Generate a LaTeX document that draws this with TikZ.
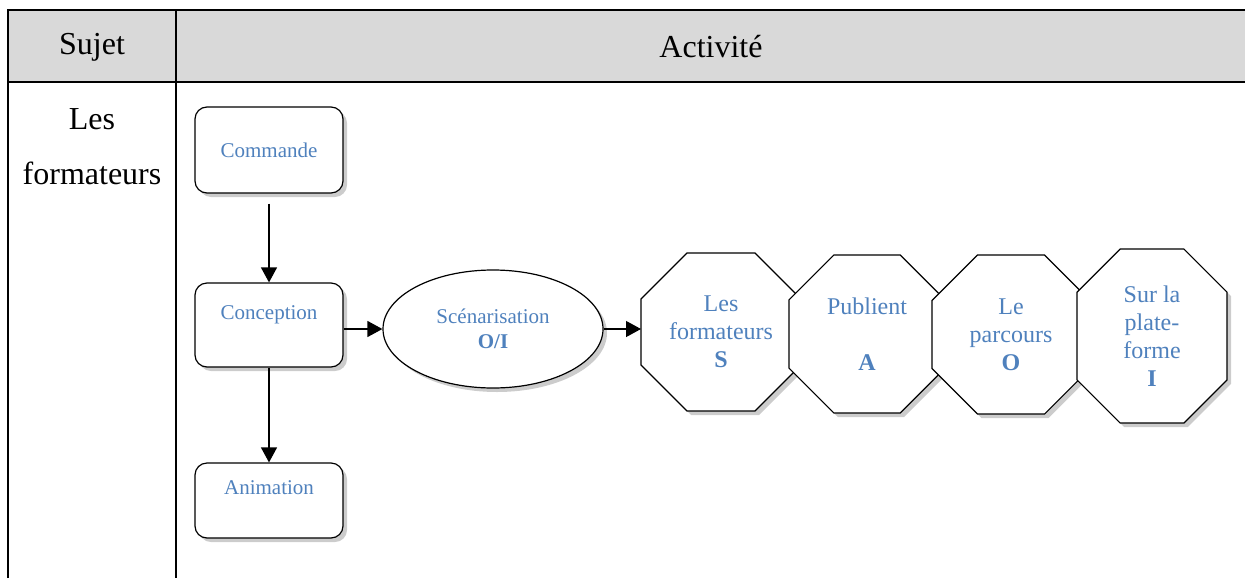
\documentclass[tikz,border=0pt]{standalone}
\usepackage{fontspec}
\setmainfont{Liberation Serif}
\usetikzlibrary{shapes.geometric,arrows.meta,shadows}
\definecolor{bleutexte}{HTML}{4F81BD}
\definecolor{gristable}{HTML}{D9D9D9}
\tikzset{
  ombre/.style={drop shadow={shadow xshift=2pt,shadow yshift=-2pt,opacity=0.4}},
  boite/.style={draw,fill=white,rounded corners=6pt,line width=0.6pt,ombre,minimum width=74pt,
    align=center,text=bleutexte,font=\fontsize{10.5}{12.5}\selectfont},
  bulle/.style={ellipse,draw,fill=white,line width=0.6pt,ombre,minimum width=110pt,minimum height=59pt,
    inner sep=0pt,align=center,text=bleutexte,font=\fontsize{10.5}{12.5}\selectfont},
  octo/.style={draw,fill=white,line width=0.6pt,ombre},
  textocto/.style={align=center,text=bleutexte,font=\fontsize{12}{14}\selectfont},
  entete/.style={font=\fontsize{16}{19}\selectfont},
  fleche/.style={-{Triangle[length=7.5pt,width=8pt]},line width=0.6pt}
}
% octogone : nom, centre, demi-largeur, demi-hauteur, texte
\newcommand{\octogone}[5]{%
  \begin{scope}[shift={#2}]
    \pgfmathsetmacro{\coin}{0.575*#3}
    \draw[octo] (-#3,{#4-\coin}) -- ({-#3+\coin},#4) -- ({#3-\coin},#4) -- (#3,{#4-\coin})
      -- (#3,{-#4+\coin}) -- ({#3-\coin},-#4) -- ({-#3+\coin},-#4) -- (-#3,{-#4+\coin}) -- cycle;
    \node[textocto] (#1) at (0,0) {#5};
    \coordinate (#1-o) at (-#3,0);
  \end{scope}}
\begin{document}
\begin{tikzpicture}[x=0.5pt,y=-0.5pt]
  \useasboundingbox (0,0) rectangle (1245,578);
  %% Tableau
  \fill[gristable] (8,10) rectangle (1245,82);
  \draw[line width=1pt] (8,578) -- (8,10) -- (1245,10);
  \draw[line width=1pt] (8,82) -- (1245,82);
  \draw[line width=1pt] (176,10) -- (176,578);
  \node[entete] (sujet) at (92,47) {Sujet};
  \node[entete] (activite) at (711,47) {Activité};
  \node[entete,align=center,font=\fontsize{16}{27.5}\selectfont] (formateurs) at (92,147) {Les\\formateurs};
  %% Boites
  \node[boite,minimum height=43pt] (cmd) at (269,150) {Commande};
  \node[boite,minimum height=42pt] (conc) at (269,325) {Conception\\\mbox{}};
  \node[boite,minimum height=37.5pt] (anim) at (269,500.5) {Animation\\\mbox{}};
  \node[bulle] (scen) at (493,329) {Scénarisation\\\textbf{O/I}};
  %% Octogones
  \octogone{o1}{(721,332)}{80}{79}{Les\\formateurs\\\textbf{S}}
  \octogone{o2}{(867,334)}{78}{79}{Publient\\\mbox{}\\\textbf{A}}
  \octogone{o3}{(1011,334.5)}{79}{79.5}{Le\\parcours\\\textbf{O}}
  \octogone{o4}{(1152,336)}{75}{87}{Sur la\\plate-\\forme\\\textbf{I}}
  %% Fleches
  \draw[fleche,shorten <=5pt] (cmd.south) -- (conc.north);
  \draw[fleche] (conc.south) -- (anim.north);
  \draw[fleche] (conc.east |- scen.west) -- (scen.west);
  \draw[fleche] (scen.east) -- (scen.east -| o1-o);
\end{tikzpicture}
\end{document}
